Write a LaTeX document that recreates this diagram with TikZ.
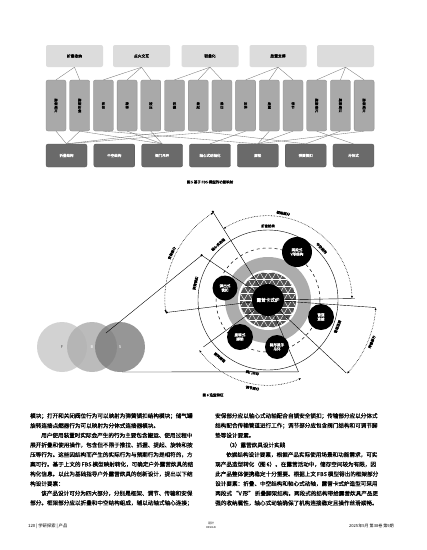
\documentclass[tikz,border=0pt]{standalone}
\usepackage{fontspec}
\setmainfont{Noto Sans CJK SC}
\newfontfamily\bodyf{Noto Sans CJK SC}[FakeBold=0.3]
\newfontfamily\figf{Noto Sans CJK SC}[FakeBold=0.6]
\usetikzlibrary{arrows.meta}
\XeTeXinterchartokenstate=1
\XeTeXinterchartoks 1 1 = {\hskip0pt plus 1pt\relax}
\XeTeXinterchartoks 1 3 = {\hskip0pt plus 1pt\relax}
\XeTeXinterchartoks 3 1 = {\hskip0pt plus 1pt\relax}
\XeTeXinterchartoks 2 1 = {\hskip0pt plus 1pt\relax}
\XeTeXinterchartoks 1 2 = {\hskip0pt plus 1pt\relax}
\newcommand{\fs}[1]{\fontsize{#1}{#1}\selectfont}
\definecolor{topc}{HTML}{DCDCDC}
\definecolor{midc}{HTML}{A9A9A9}
\definecolor{midd}{HTML}{8C8C8C}
\definecolor{botc}{HTML}{6A6A6A}
\definecolor{botd}{HTML}{555555}
\definecolor{linec}{HTML}{7A7A7A}
\definecolor{vf}{HTML}{D2D2D2}
\definecolor{vb}{HTML}{B0B0B0}
\definecolor{vs}{HTML}{7C7C7C}
\begin{document}
\begin{tikzpicture}[x=1pt,y=-1pt,
  topbox/.style={fill=topc,rounded corners=2pt,minimum width=57pt,minimum height=22pt,inner sep=0pt,font=\figf\fs{3.8}},
  midbox/.style={fill=midc,draw=midd,line width=0.3pt,rounded corners=2pt,minimum width=20pt,minimum height=51pt,inner sep=0pt,align=center,font=\figf\fontsize{3.3}{3.6}\selectfont},
  botbox/.style={fill=botc,draw=botd,line width=0.3pt,rounded corners=2pt,minimum width=41pt,minimum height=23pt,inner sep=0pt,text=white,font=\figf\fs{3.5}},
  conn/.style={linec,line width=0.35pt},
  body/.style={anchor=west,inner sep=0pt,font=\bodyf\fs{5.6}},
  darc/.style={densely dotted,line width=0.55pt,{Latex[length=2.5pt,width=2pt]}-{Latex[length=2.5pt,width=2pt]}},
  alab/.style={fill=white,inner sep=0.3pt,font=\figf\fs{3.4}},
  blk/.style={circle,fill=black,text=white,align=center,inner sep=0pt,font=\figf\fontsize{3.6}{4.2}\selectfont},
  ray/.style={line width=0.4pt}]
\useasboundingbox (0,0) rectangle (427,550);
\fill[white] (0,0) rectangle (427,550);

% ---------- Figure 5 ----------
\node[topbox] (t1) at (74.5,56) {折叠收纳};
\node[topbox] (t2) at (141.5,56) {点火交互};
\node[topbox] (t3) at (210,56) {轻量化};
\node[topbox] (t4) at (278,56) {放置支撑};
\node[topbox] (t5) at (345.5,56) {};

\foreach \i/\t in {1/脚\\架\\展\\开,2/脚\\架\\折\\叠,3/抓\\住,4/旋\\转,5/按\\压,6/抓\\握,7/提\\起,8/推\\出,9/拉\\伸,10/放\\置,11/调\\节,12/脚\\架\\展\\开,13/脚\\架\\展\\开,14/脚\\架\\展\\开}
  \node[midbox] (m\i) at ({56+(\i-1)*23.7},105.5) {\t};

\foreach \j/\t in {1/折叠结构,2/中空结构,3/阀门吊环,4/轴心式动轴化,5/脚垫,6/弹簧锁扣,7/分体式}
  \node[botbox] (b\j) at ({66.5+(\j-1)*47.83},155.5) {\t};

\foreach \a/\b in {t1/m1,t1/m2,t2/m3,t2/m4,t2/m5,t3/m6,t3/m7,t3/m8,t4/m9,t4/m10,t4/m11,t5/m12,t5/m13,t5/m14}
  \draw[conn] (\a.south) -- (\b.north);
\foreach \a/\b in {m1/b1,m2/b1,m2/b3,m3/b5,m4/b3,m5/b3,m6/b1,m7/b6,m8/b1,m9/b4,m10/b5,m11/b5,m12/b7,m13/b6,m14/b5}
  \draw[conn] (\a.south) -- (\b.north);

\node[font=\figf\fs{3.5}] (cap5) at (210,182) {图 5 基于 FBS 模型的功能映射};

% ---------- Figure 6 ----------
\fill[vf] (62,347) circle (25);
\fill[vb,opacity=0.85] (92,347) circle (25);
\fill[vs,opacity=0.8] (120,347) circle (25);
\node[font=\fs{4},text=black!70] (F) at (62,347) {F};
\node[font=\fs{4},text=white] (B) at (92,347) {B};
\node[font=\fs{4},text=white] (S) at (120,347) {S};
\coordinate (Sup) at (106,333);
\coordinate (Sdn) at (122,372);

\coordinate (C) at (268,300);
\begin{scope}[shift={(268,300)},yscale=-1]
  \fill[gray!65] (0,0) circle (43);
  \fill[white] (0,0) circle (30);
  \begin{scope}
    \clip (0,0) circle (28);
    \fill[black!68] (0,0) circle (28);
    \foreach \a in {0,60,120}{\foreach \k in {-5,...,5}{
      \draw[white,line width=0.45pt,rotate=\a] (-35,\k*6.9) -- (35,\k*6.9);}}
  \end{scope}
  \draw[dashed,line width=0.5pt] (0,0) circle (52);
  \draw[line width=0.4pt] (0,0) circle (70);
  \coordinate (P1) at (122:104);
  \coordinate (P2) at (1:87);
  \coordinate (P3) at (187:102);
  \coordinate (P4) at (146:80);
  \coordinate (P5) at (-4:108);
  \coordinate (P6) at (-43:107);
  \coordinate (P7) at (-67:78);
  \coordinate (P8) at (216:80);
  \draw[darc] (122:84) arc[start angle=122,end angle=1,radius=84];
  \draw[darc] (122:103) arc[start angle=122,end angle=187,radius=103];
  \draw[darc] (-4:108) arc[start angle=-4,end angle=-43,radius=108];
  \draw[darc] (216:85) arc[start angle=216,end angle=293,radius=85];
  \node[alab,rotate=-10] (l1) at (80:88) {框架部分};
  \node[alab,rotate=0] (l2) at (90:74) {折叠结构};
  \node[alab,rotate=-46] (l3) at (44:74.5) {中空结构};
  \node[alab,rotate=42] (l4) at (132:74.5) {轴心式动轴};
  \node[alab,rotate=77] (l5) at (167:74.5) {弹簧锁扣};
  \node[alab,rotate=64] (l6) at (154:107) {安保部分};
  \node[alab,rotate=69] (l7) at (-21:74.5) {管道连接};
  \node[alab,rotate=68] (l8) at (-22:112) {传输部分};
  \node[alab,rotate=-40] (l9) at (230:75) {旋转脚垫};
  \node[alab,rotate=-12] (l10) at (258:74.5) {阀门吊环};
  \node[alab,rotate=-10] (l11) at (260:89.5) {调节部分};
\end{scope}
\foreach \p in {P1,P2,P3,P4,P5,P6,P7,P8} \draw[ray] (C) -- (\p);
\draw[ray] (Sup) -- (P4);
\draw[ray] (Sdn) -- (P7);
\foreach \p in {P1,P3,P4} \fill (\p) circle (1.2);

\node[blk,minimum size=32pt,font=\figf\fs{4.6}] (core) at (C) {露营卡式炉};
\node[blk,minimum size=30pt] (n1) at (297,252) {两段式\\V形结构};
\node[blk,minimum size=25pt] (n2) at (225,288) {弹出式\\锁扣};
\node[blk,minimum size=26pt] (n3) at (321,317) {管道\\连接};
\node[blk,minimum size=26pt] (n4) at (240,337) {旋转式\\脚垫};
\node[blk,minimum size=24pt] (n5) at (277,347) {梯形提手\\吊环};

\node[font=\figf\fs{3.5}] (cap6) at (213,395) {图 6 造型特征};

% ---------- Body text ----------
\foreach \k/\t in {
 0/{\makebox[173pt][s]{模块；打开和关闭阀位行为可以映射为弹簧锁扣结构模块；储气罐}},
 1/{旋转连接点燃器行为可以映射为分体式连接器模块。},
 2/{\makebox[173pt][s]{\hspace*{11pt}用户使用装置时实际会产生的行为主要包含搬运、使用过程中}},
 3/{\makebox[173pt][s]{展开折叠和使用操作，包含但不限于推拉、抓握、提起、旋转和按}},
 4/{\makebox[173pt][s]{压等行为。这些因结构而产生的实际行为与预期行为是相符的，方}},
 5/{\makebox[173pt][s]{案可行。基于上文的\,FBS\,模型映射转化，可确定户外露营炊具的结}},
 6/{\makebox[173pt][s]{构化信息。以此为基础指导户外露营炊具的创新设计，提出以下结}},
 7/{构设计要素：},
 8/{\makebox[173pt][s]{\hspace*{11pt}该产品设计可分为四大部分，分别是框架、调节、传输和安保}},
 9/{\makebox[173pt][s]{部分。框架部分应以折叠和中空结构组成，辅以动轴式轴心连接；}}}
  \node[body] (L\k) at (30,{416+\k*9.67}) {\t};

\foreach \k/\t in {
 0/{\makebox[178pt][s]{安保部分应以轴心式动轴配合自锁安全锁扣；传输部分应以分体式}},
 1/{\makebox[178pt][s]{结构配合传输管道进行工作；调节部分应包含阀门结构和可调节脚}},
 2/{垫等设计要素。},
 3/{\hspace*{11pt}（3）露营炊具设计实践},
 4/{\makebox[178pt][s]{\hspace*{11pt}依据结构设计要素，根据产品实际使用场景和功能需求，可实}},
 5/{\makebox[178pt][s]{现产品造型转化（图\,6）。在露营活动中，储存空间较为有限，因}},
 6/{\makebox[178pt][s]{此产品整体便携稳定十分重要。根据上文\,FBS\,模型得出的框架部分}},
 7/{\makebox[178pt][s]{设计要素：折叠、中空结构和轴心式动轴，露营卡式炉造型可采用}},
 8/{\makebox[178pt][s]{两段式\,“V\,形”\,折叠脚架结构。两段式的结构带给露营炊具产品更}},
 9/{\makebox[178pt][s]{强的收纳属性，轴心式动轴确保了机构连接稳定且操作丝滑顺畅。}}}
  \node[body] (R\k) at (215,{416+\k*9.67}) {\t};

% ---------- Footer ----------
\node[anchor=west,inner sep=0pt,font=\fs{4.3}] (foot1) at (28,526) {120 | 学研探索 | 产品};
\node[inner sep=0pt,font=\fs{3}] (foot2) at (211,523) {设计};
\node[inner sep=0pt,font=\fs{2.6}] (foot3) at (211,528) {DESIGN};
\node[anchor=east,inner sep=0pt,font=\fs{4.1}] (foot4) at (394,526) {2025年5月 第38卷 第9期};
\end{tikzpicture}
\end{document}
